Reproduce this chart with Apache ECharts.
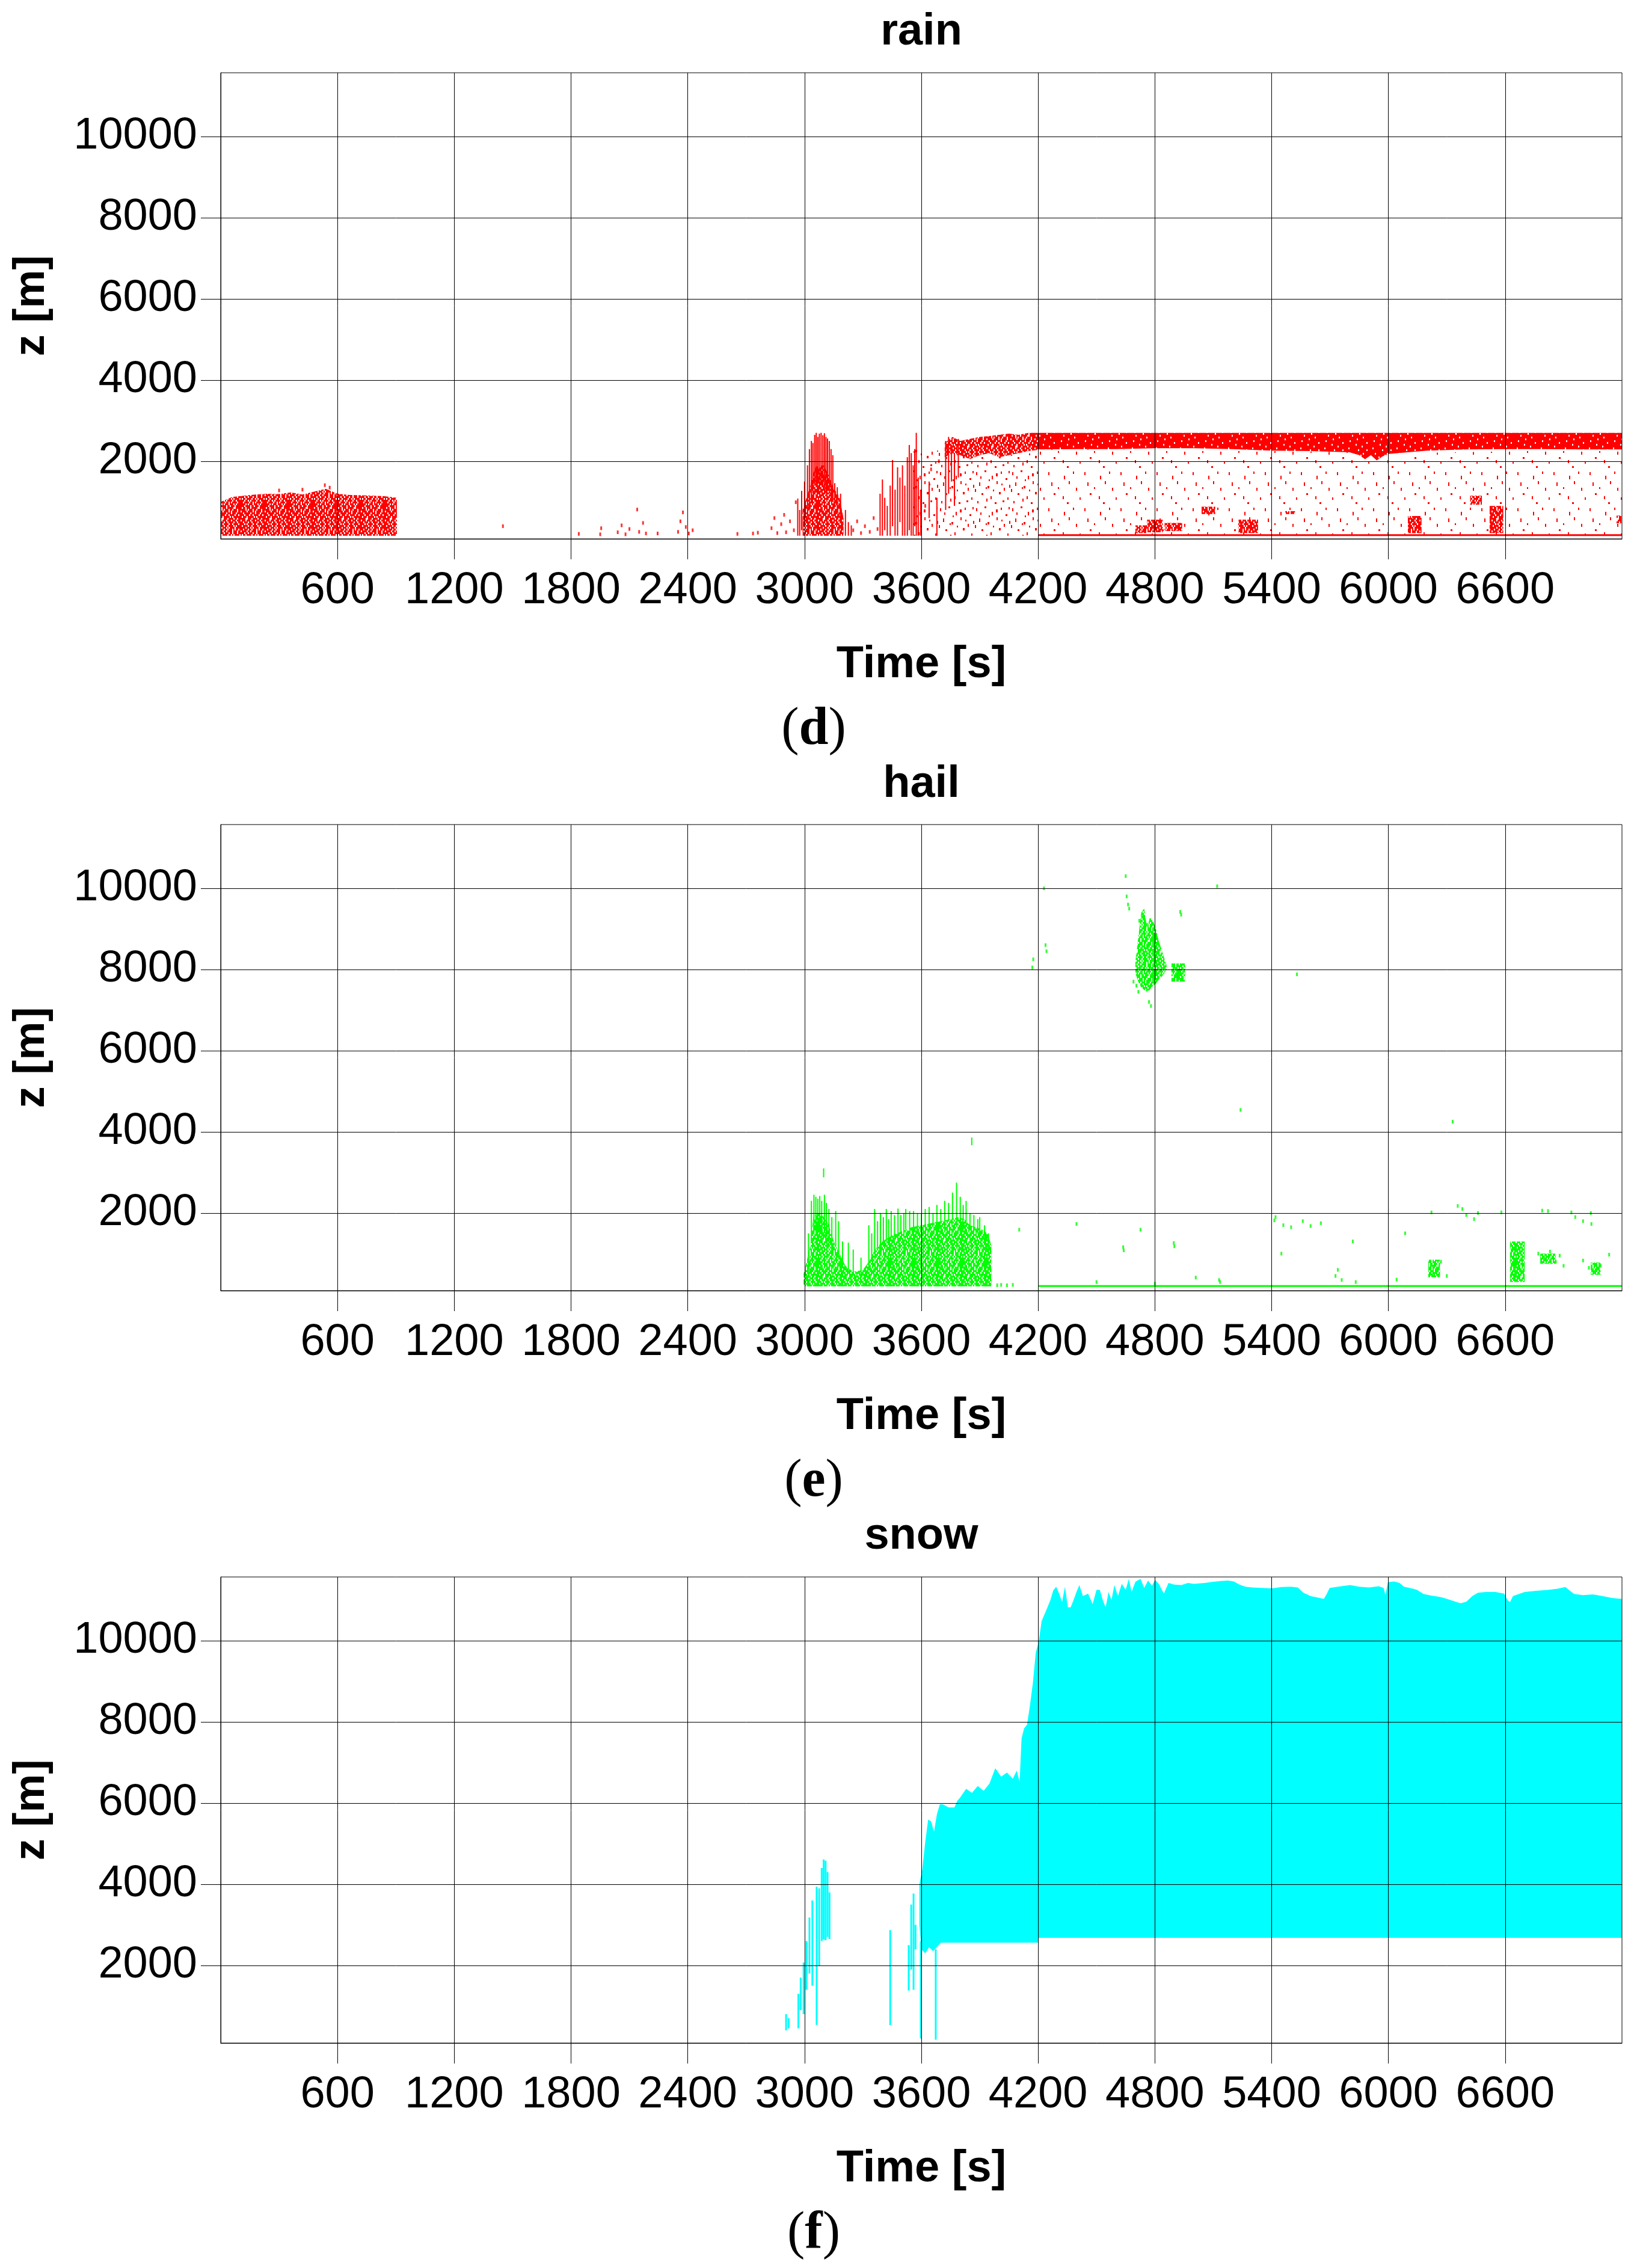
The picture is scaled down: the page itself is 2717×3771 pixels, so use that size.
<!DOCTYPE html>
<html><head><meta charset="utf-8">
<script src="https://cdn.jsdelivr.net/npm/echarts@6/dist/echarts.min.js"></script>
<style>html,body{margin:0;padding:0;background:#fff}#c{width:2717px;height:3771px}</style>
</head><body><div id="c"></div>
<script>
// ================= DATA =================
const panelTitles = ['rain', 'hail', 'snow'];
const panelLetters = ['d', 'e', 'f'];
const xTicks = [600, 1200, 1800, 2400, 3000, 3600, 4200, 4800, 5400, 6000, 6600];
const yTicks = [2000, 4000, 6000, 8000, 10000];
const timeRange = [0, 7200];
const zRange = [87, 11570];

// ---- rain ----
const rainBlockT = [0, 60, 120, 180, 240, 300, 360, 420, 480, 540, 600, 660, 720, 780, 840, 905];
const rainBlockTop = [1000, 1120, 1150, 1180, 1200, 1190, 1230, 1180, 1250, 1320, 1200, 1170, 1160, 1150, 1140, 1100];
const rainBlockBotT = [0, 905];
const rainBlockBotZ = [165, 165];

const rainBurstT = [2990, 3010, 3030, 3045, 3060, 3075, 3090, 3105, 3120, 3135, 3150, 3165, 3180, 3200];
const rainBurstTop = [800, 1100, 1400, 1700, 1900, 1800, 1950, 1850, 1700, 1500, 1300, 1250, 1100, 600];
const rainBurstBotT = [2990, 3200];
const rainBurstBotZ = [165, 165];

const rainBandAT = [3720, 3760, 3800, 3850, 3900, 3950, 4000, 4050, 4100, 4150, 4200];
const rainBandAHi = [2450, 2600, 2500, 2550, 2600, 2620, 2650, 2680, 2650, 2700, 2700];
const rainBandALo = [2100, 2200, 2150, 2050, 2150, 2200, 2100, 2150, 2200, 2250, 2280];

const rainBandBT = [4200, 4400, 4600, 4800, 5000, 5200, 5400, 5600, 5800, 5850, 5880, 5910, 5940, 5970, 6000, 6100, 6200, 6400, 6600, 6800, 7000, 7200];
const rainBandBHi = [2700, 2700, 2700, 2700, 2700, 2700, 2700, 2700, 2700, 2700, 2700, 2700, 2700, 2700, 2700, 2700, 2700, 2700, 2700, 2700, 2700, 2700];
const rainBandBLo = [2290, 2300, 2300, 2320, 2320, 2300, 2260, 2250, 2220, 2150, 2050, 2150, 2020, 2120, 2180, 2220, 2260, 2290, 2300, 2300, 2290, 2290];

const rainScatterMidT = [3560, 3720, 3800, 4000, 4200];
const rainScatterMidHi = [2300, 2250, 2150, 2100, 2280];
const rainScatterLowT = [4200, 5400, 5800, 5950, 6100, 7200];
const rainScatterLowHi = [2300, 2260, 2220, 2020, 2200, 2290];
const rainScatterBotZ = 165;

const rainClusters = [ // [t0, t1, z0, z1]
  [4700, 4760, 230, 420], [4760, 4840, 250, 560], [4850, 4940, 280, 480], [5040, 5110, 700, 880], [5230, 5330, 230, 560],
  [5470, 5520, 700, 770], [6100, 6170, 230, 650], [6420, 6480, 930, 1150], [6520, 6590, 230, 900],
  [7172, 7197, 470, 660]
];
const rainStreaks = [ // [t, z0, z1]
  [2965, 165, 1080], [2975, 165, 800], [2985, 300, 1270], [3000, 400, 1500], [3015, 600, 1900], [3025, 800, 2300],
  [3035, 1000, 2500], [3043, 1200, 2450], [3052, 1400, 2650], [3060, 1500, 2700], [3068, 1500, 2600], [3076, 1300, 2680],
  [3085, 1500, 2700], [3094, 1400, 2640], [3102, 1300, 2690], [3110, 1200, 2600], [3118, 1300, 2560], [3127, 1200, 2500],
  [3136, 1100, 2300], [3145, 1000, 2150], [3155, 900, 1460], [3168, 700, 1360], [3185, 500, 1200],
  [3210, 165, 800], [3225, 165, 500], [3240, 165, 420],
  [3388, 165, 1200], [3400, 165, 1550], [3412, 300, 1100], [3425, 165, 900], [3440, 165, 1400], [3452, 400, 2030],
  [3465, 165, 1300], [3478, 165, 1850], [3490, 500, 1600], [3503, 165, 1900], [3515, 165, 1400], [3528, 165, 2100],
  [3538, 300, 2400], [3548, 165, 2200], [3558, 165, 1900], [3566, 400, 2300], [3574, 165, 2700], [3584, 165, 1600],
  [3596, 165, 1300], [3640, 600, 1500], [3680, 165, 1100], [3725, 800, 2500], [3740, 1200, 2600], [3755, 1500, 2400],
  [3770, 900, 2200], [3790, 1600, 2550]
];
const rainDots = [
  [300, 1280], [420, 1300], [535, 1410], [560, 1350],
  [1450, 400], [1840, 210], [1950, 200], [1955, 350], [2040, 250], [2060, 420], [2080, 200], [2100, 330],
  [2140, 810], [2150, 260], [2170, 480], [2185, 220], [2245, 220], [2350, 260], [2362, 520], [2375, 740],
  [2390, 380], [2405, 220], [2425, 300], [2655, 210], [2735, 220], [2760, 240], [2830, 350], [2845, 600],
  [2860, 230], [2880, 450], [2895, 680], [2905, 250], [2925, 520], [2945, 300], [2955, 990],
  [3250, 300], [3270, 520], [3290, 230], [3310, 400], [3335, 260], [3355, 600], [3375, 330],
  [3620, 900], [3650, 1800], [3690, 2000]
];
const rainLowLine = [[4200, 180], [7200, 180]];

// ---- hail ----
const hailBurstT = [2995, 3030, 3045, 3070, 3100, 3125, 3150, 3180, 3210, 3250, 3300, 3330, 3360, 3400, 3450, 3500, 3550, 3600, 3650, 3700, 3750, 3790, 3820, 3850, 3880, 3910, 3940, 3960];
const hailBurstTop = [500, 1200, 1900, 2000, 1900, 1700, 1300, 1000, 700, 550, 600, 800, 1100, 1300, 1450, 1550, 1650, 1700, 1750, 1800, 1850, 1900, 1850, 1700, 1650, 1600, 1500, 1200];
const hailBurstBotT = [2995, 3960];
const hailBurstBotZ = [195, 195];

const hailCloudT = [4700, 4715, 4730, 4745, 4760, 4775, 4790, 4805, 4820, 4840, 4860];
const hailCloudHi = [8200, 8800, 9400, 9500, 9000, 9300, 9200, 9000, 8700, 8400, 8100];
const hailCloudLo = [7900, 7700, 7550, 7500, 7450, 7500, 7600, 7650, 7750, 7850, 8000];

const hailClusters = [
  [4885, 4955, 7700, 8150], [6625, 6700, 300, 1300], [6205, 6265, 420, 850], [6780, 6860, 750, 1000], [7040, 7090, 480, 780]
];
const hailStreaks = [
  [3020, 400, 1500], [3035, 1300, 2300], [3048, 1500, 2450], [3058, 1600, 2400], [3068, 1500, 2350], [3078, 1500, 2420],
  [3088, 1400, 2300], [3098, 2880, 3100], [3102, 1500, 2450], [3112, 1400, 2250], [3125, 1200, 2100], [3140, 1100, 1900],
  [3160, 1200, 2050], [3175, 900, 1800], [3195, 700, 1300], [3225, 600, 1270],
  [3250, 500, 1100], [3290, 500, 900], [3330, 700, 1700], [3345, 800, 1500], [3360, 1000, 2100], [3375, 1100, 1800],
  [3390, 1200, 2000], [3405, 1200, 1900], [3420, 1300, 2100], [3432, 1300, 1850], [3445, 1400, 2050], [3462, 1400, 1950],
  [3480, 1500, 2110], [3495, 1500, 1950], [3510, 1500, 2000], [3520, 1600, 2100], [3540, 1600, 2050], [3560, 1600, 2050],
  [3580, 1600, 2000], [3600, 1650, 2000], [3620, 1650, 2100], [3640, 1700, 2150], [3660, 1700, 2000], [3680, 1750, 2200],
  [3700, 1750, 2100], [3720, 1800, 2300], [3740, 1800, 2250], [3760, 1850, 2504], [3781, 1850, 2750], [3800, 1850, 2400],
  [3815, 1800, 2200], [3830, 1700, 2300], [3850, 1600, 2000], [3870, 1600, 1950], [3890, 1500, 1850], [3900, 1400, 1900],
  [3925, 1220, 1700], [3945, 1000, 1500], [3859, 3670, 3860]
];
const hailDots = [
  [4170, 8050], [4175, 8250], [4230, 10000], [4238, 8600], [4243, 8450], [4650, 10300], [4655, 9800], [4662, 9600],
  [4668, 9500], [4720, 9200], [4735, 9300], [4760, 9100], [4930, 9420], [4935, 9350], [5120, 10050], [5530, 7880],
  [5240, 4540], [6330, 4250], [4705, 7600], [4715, 7450], [4770, 7200], [4780, 7100], [4690, 7700],
  [3990, 220], [4010, 230], [4040, 220], [4070, 230], [4103, 1590],
  [4397, 1730], [4637, 1160], [4640, 1080], [4726, 1590], [4897, 1260], [4900, 1180], [5010, 410], [5130, 350],
  [5135, 300], [5414, 1820], [5420, 1900], [5460, 1700], [5500, 1650], [5560, 1800], [5600, 1680], [5653, 1750],
  [5728, 450], [5740, 600], [5760, 350], [5832, 300], [5817, 1300], [6042, 360], [6086, 1500], [6221, 2015],
  [6356, 2175], [6380, 2100], [6400, 1950], [6440, 1850], [6460, 2000], [6580, 2015], [6790, 2060], [6820, 2050],
  [6940, 2015], [6960, 1900], [7000, 1800], [7043, 1730], [7040, 2000], [7134, 975], [7000, 830], [7030, 650],
  [7060, 550], [7090, 700], [6770, 1000], [6800, 900], [6830, 1050], [6860, 800], [6880, 950], [6900, 700],
  [6250, 600], [6270, 800], [6230, 500], [6300, 450], [5450, 1000], [4500, 300], [4800, 260]
];
const hailLowLine = [[4200, 200], [7200, 200]];

// ---- snow ----
const snowTopT = [3590,3605,3620,3635,3650,3665,3680,3695,3710,3740,3770,3785,3800,3830,3860,3890,3920,3950,3980,4010,4040,4070,4090,4105,4115,4128,4143,4158,4173,4188,4203,4218,4233,4248,4263,4278,4293,4308,4323,4338,4353,4367,4382,4397,4412,4430,4457,4480,4500,4517,4532,4547,4562,4577,4592,4610,4630,4650,4666,4680,4700,4726,4745,4765,4785,4801,4820,4846,4870,4900,4936,4970,5000,5055,5100,5140,5175,5205,5235,5265,5300,5350,5402,5450,5500,5534,5563,5600,5640,5668,5683,5698,5740,5803,5850,5900,5950,5975,5985,5997,6030,6057,6080,6120,6147,6180,6220,6260,6281,6320,6350,6371,6400,6431,6460,6500,6550,6595,6612,6625,6640,6700,6760,6820,6870,6909,6935,6954,7000,7050,7100,7150,7199];
const snowTopZ = [4000,4360,5040,5590,5550,5290,5720,5970,5970,5890,5890,6060,6140,6350,6250,6420,6300,6480,6860,6650,6750,6600,6800,6520,7590,7840,7930,8400,8950,9710,9970,10480,10650,10820,11000,11240,11330,11160,10950,11330,10820,10820,11000,11200,11370,11100,11160,10900,11250,11250,11000,10820,11200,11000,11370,11100,11400,11250,11520,11200,11450,11520,11300,11480,11350,11500,11400,11160,11420,11380,11370,11420,11400,11420,11450,11470,11480,11460,11380,11330,11310,11300,11290,11320,11330,11310,11180,11100,11060,11030,11150,11300,11330,11370,11330,11310,11340,11300,11120,11440,11460,11420,11330,11290,11250,11150,11110,11080,11060,11000,10950,10920,10960,11100,11180,11200,11200,11160,11000,10950,11100,11200,11230,11250,11280,11320,11220,11150,11120,11140,11100,11050,11030];
const snowBotT = [3590, 3600, 3620, 3640, 3660, 3700, 4200, 4203, 7199];
const snowBotZ = [3000, 2400, 2300, 2450, 2350, 2560, 2560, 2680, 2680];
const snowStreaks = [
  [2905, 400, 800], [2918, 450, 700], [2968, 450, 1300], [2980, 900, 1700], [2995, 800, 2070], [3010, 1400, 2600],
  [3025, 1800, 3180], [3040, 1500, 3600], [3062, 535, 3940], [3075, 2000, 3900], [3088, 2600, 4400], [3098, 2640, 4610],
  [3108, 2620, 4580], [3118, 2700, 4300], [3128, 2650, 3800], [3440, 530, 2870], [3535, 1380, 2500], [3548, 1900, 3500],
  [3560, 1400, 3770], [3570, 2400, 3000], [3597, 200, 2600], [3674, 170, 2400]
];

// ================= STYLE / RENDER =================
const FONT = '"Liberation Sans", Arial, sans-serif';
const SERIF = '"Liberation Serif", "Times New Roman", serif';
const RED = '#ff0000', GREEN = '#00ff00', CYAN = '#00ffff';

const TEX_SPECKLE = [
"###.####.##.###.####","#.##.###.#####..####","####.#.###.##.###.##",".####.####.#.####.##",
"##.#####.###.###.###","###.###.##.####.##.#","#.###.#####.#.######","####..###.####.##.##",
".###.###.###.###.###","##.###.##.####.##.##","###.#.####.##.####.#","#.####.##.####.#.###",
"####.###.#.####.####","##.###.##.###.#.##.#",".####.##.####.###.##","###.##.###.##.###.##",
"#.##.####.##.#.####.","###.##.#.####.##.###","##.####.##.#.####.##","####.#.###.###.#.###"];
const TEX_SOLID = [
"##########.#########","####.###############","#############.######","########.###########",
"##.#################","################.###","#######.############","############.#######",
"#.##################","#########.######.###","####################","###.#########.######",
"###########.########","######.#############","################.###","#.########.#########",
"#####.##############","##############.#####","#########.##########","###.############.###"];
const DASH_LOW = [[3,5,2,5],[29,11,2,6],[44,4,2,4],[8,22,2,6],[37,20,2,5],
  [49,31,2,5],[12,40,3,3],[27,45,2,5],[55,47,2,4],[34,55,3,3],[19,30,2,3]];
const DASH_MID = DASH_LOW.concat([[17,2,3,3],[52,15,3,3],[22,28,3,4],[41,38,3,4],[5,53,2,4],[10,12,2,4],[24,17,2,3],[36,7,3,5],[57,3,2,4],[1,33,2,5],
  [31,34,2,3],[45,24,2,3],[20,49,2,5],[47,52,3,3],[58,26,2,5]]);

function asciiPattern(rows, color, cw, ch) {
  const c = document.createElement('canvas');
  c.width = rows[0].length * cw; c.height = rows.length * ch;
  const g = c.getContext('2d'); g.fillStyle = color;
  rows.forEach((r, j) => { for (let i = 0; i < r.length; i++) if (r[i] === '#') g.fillRect(i * cw, j * ch, cw, ch); });
  return { image: c, repeat: 'repeat' };
}
function dashPattern(size, dashes, color) {
  const c = document.createElement('canvas');
  c.width = size; c.height = size;
  const g = c.getContext('2d'); g.fillStyle = color;
  dashes.forEach(d => g.fillRect(d[0], d[1], d[2], d[3]));
  return { image: c, repeat: 'repeat' };
}

function envelope(g, upT, upZ, loT, loZ, fill, z) {
  return {
    type: 'custom', xAxisIndex: g, yAxisIndex: g, z: z, silent: true, animation: false, clip: true,
    data: upT.map((t, i) => [t, upZ[i]]),
    renderItem: function (params, api) {
      if (params.dataIndex !== 0) return null;
      const pts = [];
      for (let i = 0; i < upT.length; i++) pts.push(api.coord([upT[i], upZ[i]]));
      for (let i = loT.length - 1; i >= 0; i--) pts.push(api.coord([loT[i], loZ[i]]));
      return { type: 'polygon', shape: { points: pts }, style: { fill: fill } };
    }
  };
}
function rects(g, data, fill, z) {
  return {
    type: 'custom', xAxisIndex: g, yAxisIndex: g, z: z, silent: true, animation: false, clip: true,
    data: data, encode: { x: [0, 1], y: [2, 3] },
    renderItem: function (params, api) {
      const p0 = api.coord([api.value(0), api.value(2)]);
      const p1 = api.coord([api.value(1), api.value(3)]);
      return { type: 'rect', shape: { x: p0[0], y: p1[1], width: p1[0] - p0[0], height: p0[1] - p1[1] }, style: { fill: fill } };
    }
  };
}
function streaks(g, data, color, w, z) {
  return {
    type: 'custom', xAxisIndex: g, yAxisIndex: g, z: z, silent: true, animation: false, clip: true,
    data: data, encode: { x: 0, y: [1, 2] },
    renderItem: function (params, api) {
      const p0 = api.coord([api.value(0), api.value(1)]);
      const p1 = api.coord([api.value(0), api.value(2)]);
      return { type: 'rect', shape: { x: p0[0] - w / 2, y: p1[1], width: w, height: p0[1] - p1[1] }, style: { fill: color } };
    }
  };
}
function dots(g, data, color, z) {
  return { type: 'scatter', xAxisIndex: g, yAxisIndex: g, z: z, silent: true, animation: false,
    symbol: 'rect', symbolSize: [3, 6], itemStyle: { color: color }, data: data };
}
function hline(g, data, color, z) {
  return { type: 'line', xAxisIndex: g, yAxisIndex: g, z: z, silent: true, animation: false,
    showSymbol: false, symbol: 'none', lineStyle: { color: color, width: 3 }, data: data };
}
function constArr(t, v) { return t.map(() => v); }
const plainNum = v => String(v);

const redSpeckle = asciiPattern(TEX_SPECKLE, RED, 2, 3);
const redSolid = asciiPattern(TEX_SOLID, RED, 2, 3);
const redMid = dashPattern(60, DASH_MID, RED);
const redLow = dashPattern(60, DASH_LOW, RED);
const greenSpeckle = asciiPattern(TEX_SPECKLE, GREEN, 2, 3);

const gridTops = [121, 1371, 2622];
const gridH = 775, gridLeft = 367, gridW = 2330;

const grids = [], xAxes = [], yAxes = [], graphics = [];
gridTops.forEach((top, k) => {
  grids.push({ left: gridLeft, top: top, width: gridW, height: gridH, show: true, borderColor: '#000', borderWidth: 1,
    backgroundColor: 'transparent', z: 20, containLabel: false, outerBoundsMode: 'none' });
  xAxes.push({ gridIndex: k, type: 'value', min: timeRange[0], max: timeRange[1], z: 20,
    axisLine: { show: true, onZero: false, lineStyle: { color: '#000', width: 1 } },
    axisTick: { show: true, inside: false, length: 34, lineStyle: { color: '#000', width: 1 }, customValues: xTicks },
    axisLabel: { show: true, margin: 50, fontSize: 74, fontFamily: FONT, color: '#000', customValues: xTicks, formatter: plainNum },
    splitLine: { show: true, lineStyle: { color: '#000', width: 1 } },
    name: 'Time [s]', nameLocation: 'middle', nameGap: 173,
    nameTextStyle: { fontSize: 74, fontWeight: 'bold', fontFamily: FONT, color: '#000' } });
  yAxes.push({ gridIndex: k, type: 'value', min: zRange[0], max: zRange[1], z: 20,
    axisLine: { show: true, onZero: false, lineStyle: { color: '#000', width: 1 } },
    axisTick: { show: true, inside: false, length: 33, lineStyle: { color: '#000', width: 1 }, customValues: yTicks },
    axisLabel: { show: true, margin: 39, fontSize: 74, fontFamily: FONT, color: '#000', customValues: yTicks, formatter: plainNum,
      padding: [16, 0, 0, 0] },
    splitLine: { show: true, lineStyle: { color: '#000', width: 1 } },
    name: 'z [m]', nameLocation: 'middle', nameGap: 278, nameRotate: 90,
    nameTextStyle: { fontSize: 72, fontWeight: 'bold', fontFamily: FONT, color: '#000' } });
  const dy = k * 1250.2;
  graphics.push({ type: 'text', x: 1532, y: 54 + dy, z: 30,
    style: { text: panelTitles[k], font: 'bold 74px ' + FONT, fill: '#000', textAlign: 'center', textVerticalAlign: 'middle' } });
  graphics.push({ type: 'text', x: 1353, y: 1214 + dy, z: 30,
    style: { text: '{p|(}{b|' + panelLetters[k] + '}{p|)}', fill: '#000', textAlign: 'center', textVerticalAlign: 'middle',
      font: '88px ' + SERIF,
      rich: { p: { fontSize: 88, fontFamily: SERIF, fontWeight: 'normal' }, b: { fontSize: 88, fontFamily: SERIF, fontWeight: 'bold' } } } });
});

const series = [
  // rain (grid 0)
  envelope(0, rainScatterMidT, rainScatterMidHi, rainScatterMidT, constArr(rainScatterMidT, rainScatterBotZ), redMid, 1),
  envelope(0, rainScatterLowT, rainScatterLowHi, rainScatterLowT, constArr(rainScatterLowT, rainScatterBotZ), redLow, 1),
  envelope(0, rainBlockT, rainBlockTop, rainBlockBotT, rainBlockBotZ, redSpeckle, 2),
  envelope(0, rainBurstT, rainBurstTop, rainBurstBotT, rainBurstBotZ, redSpeckle, 2),
  envelope(0, rainBandAT, rainBandAHi, rainBandAT, rainBandALo, redSpeckle, 2),
  envelope(0, rainBandBT, rainBandBHi, rainBandBT, rainBandBLo, redSolid, 2),
  rects(0, rainClusters, redSpeckle, 3),
  streaks(0, rainStreaks, RED, 2, 4),
  dots(0, rainDots, RED, 5),
  hline(0, rainLowLine, RED, 6),
  // hail (grid 1)
  envelope(1, hailBurstT, hailBurstTop, hailBurstBotT, hailBurstBotZ, greenSpeckle, 2),
  envelope(1, hailCloudT, hailCloudHi, hailCloudT, hailCloudLo, greenSpeckle, 2),
  rects(1, hailClusters, greenSpeckle, 3),
  streaks(1, hailStreaks, GREEN, 2, 4),
  dots(1, hailDots, GREEN, 5),
  hline(1, hailLowLine, GREEN, 6),
  // snow (grid 2)
  envelope(2, snowTopT, snowTopZ, snowBotT, snowBotZ, CYAN, 2),
  streaks(2, snowStreaks, CYAN, 3, 4)
];

const chart = echarts.init(document.getElementById('c'), null, { renderer: 'canvas', width: 2717, height: 3771 });
chart.setOption({
  backgroundColor: '#fff',
  animation: false,
  grid: grids, xAxis: xAxes, yAxis: yAxes,
  graphic: graphics,
  series: series
});
</script></body></html>
